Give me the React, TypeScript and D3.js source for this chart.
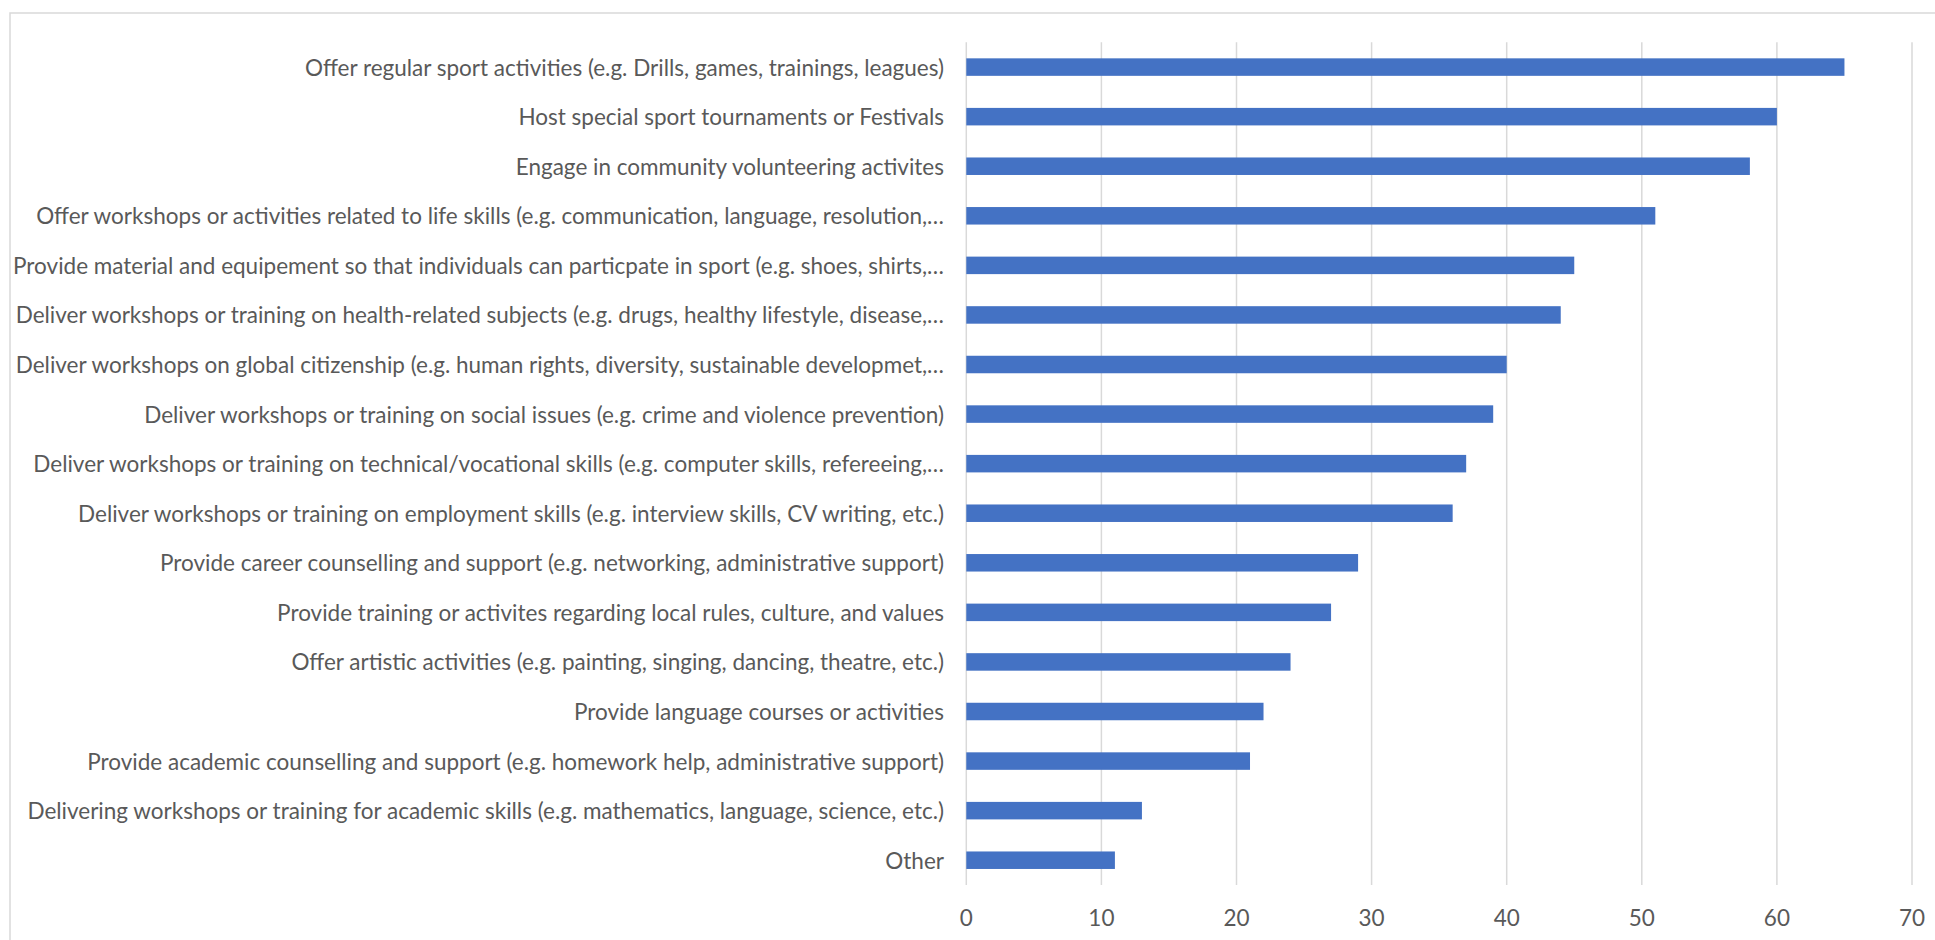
import React from "react";
import * as d3 from "d3";

const categories: string[] = [
  "Offer regular sport activities (e.g. Drills, games, trainings, leagues)",
  "Host special sport tournaments or Festivals",
  "Engage in community volunteering activites",
  "Offer workshops or activities related to life skills (e.g. communication, language, resolution,…",
  "Provide material and equipement so that individuals can particpate in sport (e.g. shoes, shirts,…",
  "Deliver workshops or training on health-related subjects (e.g. drugs, healthy lifestyle, disease,…",
  "Deliver workshops on global citizenship (e.g. human rights, diversity, sustainable developmet,…",
  "Deliver workshops or training on social issues (e.g. crime and violence prevention)",
  "Deliver workshops or training on technical/vocational skills (e.g. computer skills, refereeing,…",
  "Deliver workshops or training on employment skills (e.g. interview skills, CV writing, etc.)",
  "Provide career counselling and support (e.g. networking, administrative support)",
  "Provide training or activites regarding local rules, culture, and values",
  "Offer artistic activities (e.g. painting, singing, dancing, theatre, etc.)",
  "Provide language courses or activities",
  "Provide academic counselling and support (e.g. homework help, administrative support)",
  "Delivering workshops or training for academic skills (e.g. mathematics, language, science, etc.)",
  "Other",
];

const values: number[] = [65, 60, 58, 51, 45, 44, 40, 39, 37, 36, 29, 27, 24, 22, 21, 13, 11];

const xTicks: number[] = [0, 10, 20, 30, 40, 50, 60, 70];

const W = 1935;
const H = 940;
const FONT = "Lato, 'Open Sans', sans-serif";
const TEXT = "#595959";
const GRID = "#d9d9d9";
const BAR = "#4472c4";

export default function App() {
  const x = d3.scaleLinear().domain([0, 70]).range([966.3, 1912]);
  const y = d3
    .scaleBand<string>()
    .domain(categories)
    .range([42.3, 885])
    .paddingInner(0.647)
    .paddingOuter(0.3235);

  return (
    <svg
      width={W}
      height={H}
      style={{ position: "absolute", left: 0, top: 0, background: "#fff" }}
    >
      <rect x={10} y={13} width={W} height={H} fill="#fff" stroke={GRID} strokeWidth={1.5} />
      {xTicks.map((t) => (
        <line
          key={"g" + t}
          x1={x(t)}
          x2={x(t)}
          y1={42.3}
          y2={885}
          stroke={GRID}
          strokeWidth={1.5}
        />
      ))}
      {categories.map((c, i) => (
        <rect
          key={"b" + i}
          x={x(0)}
          y={y(c)}
          width={x(values[i]) - x(0)}
          height={y.bandwidth()}
          fill={BAR}
        />
      ))}
      {categories.map((c) => (
        <text
          key={"l" + c}
          x={944}
          y={(y(c) as number) + y.bandwidth() / 2}
          textAnchor="end"
          dominantBaseline="central"
          fontFamily={FONT}
          fontSize={22.5}
          fill={TEXT}
        >
          {c}
        </text>
      ))}
      {xTicks.map((t) => (
        <text
          key={"t" + t}
          x={x(t)}
          y={917}
          textAnchor="middle"
          dominantBaseline="central"
          fontFamily={FONT}
          fontSize={22.5}
          fill={TEXT}
        >
          {t}
        </text>
      ))}
    </svg>
  );
}
